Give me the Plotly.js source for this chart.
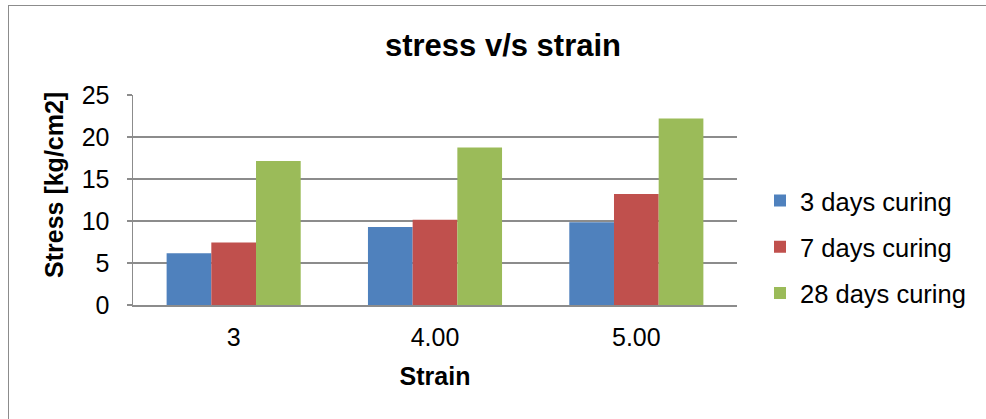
<!DOCTYPE html>
<html>
<head>
<meta charset="utf-8">
<script src="https://cdn.plot.ly/plotly-3.0.1.min.js"></script>
<style>
  html, body { margin: 0; padding: 0; background: #ffffff; }
  #wrap { position: relative; width: 986px; height: 419px; overflow: hidden; }
  #chart { width: 986px; height: 419px; }
  #frame { position: absolute; left: 8px; top: 5px; width: 1200px; height: 600px;
           border-left: 1.5px solid #8c8c8c; border-top: 1.5px solid #8c8c8c;
           pointer-events: none; box-sizing: border-box; }
</style>
</head>
<body>
<div id="wrap">
  <div id="chart"></div>
  <div id="frame"></div>
</div>
<script>
const categories = ['3', '4.00', '5.00'];
const seriesNames = ['3 days curing', '7 days curing', '28 days curing'];
const days3 = [6.15, 9.3, 9.85];
const days7 = [7.45, 10.15, 13.2];
const days28 = [17.15, 18.75, 22.2];
const colors = ['#4F81BD', '#C0504D', '#9BBB59'];
const yTicks = [0, 5, 10, 15, 20, 25];

const FONT = 'Liberation Sans, Arial, sans-serif';
const values = [days3, days7, days28];

const traces = values.map((v, i) => ({
  type: 'bar',
  name: seriesNames[i],
  legendgroup: 'g' + i,
  x: categories,
  y: v,
  marker: { color: colors[i], line: { width: 0 } },
  hoverinfo: 'x+y+name'
}));

const layout = {
  width: 986,
  height: 419,
  paper_bgcolor: '#ffffff',
  plot_bgcolor: '#ffffff',
  margin: { l: 133, r: 249, t: 95, b: 114 },
  barmode: 'group',
  bargap: 0.334,
  bargroupgap: 0,
  font: { family: FONT, color: '#000000' },
  title: {
    text: '<b>stress v/s strain</b>',
    font: { family: FONT, size: 31, color: '#000000' },
    x: 503 / 986, xanchor: 'center',
    y: 1 - 45 / 419, yanchor: 'middle'
  },
  xaxis: {
    type: 'category',
    showgrid: false,
    showline: true,
    linecolor: '#8c8c8c',
    linewidth: 1.5,
    ticks: '',
    tickfont: { family: FONT, size: 25, color: '#000000' },
    ticklabelstandoff: 9,
    title: { text: '<b>Strain</b>', font: { family: FONT, size: 25, color: '#000000' }, standoff: 18 },
    zeroline: false
  },
  yaxis: {
    range: [0, 25],
    tickvals: yTicks,
    ticktext: yTicks.map(String),
    showgrid: true,
    gridcolor: '#8c8c8c',
    gridwidth: 1.5,
    showline: true,
    linecolor: '#8c8c8c',
    linewidth: 1.5,
    ticks: 'outside',
    ticklen: 5,
    tickcolor: '#8c8c8c',
    tickwidth: 1.5,
    tickfont: { family: FONT, size: 25, color: '#000000' },
    ticklabelstandoff: 12,
    zeroline: false
  },
  annotations: [{
    text: '<b>Stress [kg/cm2]</b>',
    textangle: -90,
    xref: 'paper', yref: 'paper',
    x: (54 - 133) / 604, y: (305 - 185) / 210,
    xanchor: 'center', yanchor: 'middle',
    showarrow: false,
    font: { family: FONT, size: 25, color: '#000000' }
  }],
  legend: {
    x: (760 - 133) / 604, xanchor: 'left',
    y: (305 - 247) / 210, yanchor: 'middle',
    font: { family: FONT, size: 25.5, color: '#000000' },
    bgcolor: 'rgba(0,0,0,0)',
    borderwidth: 0,
    itemwidth: 30,
    traceorder: 'grouped',
    tracegroupgap: 10
  },
  showlegend: true
};

Plotly.newPlot('chart', traces, layout, { displayModeBar: false, staticPlot: true });
</script>
</body>
</html>
